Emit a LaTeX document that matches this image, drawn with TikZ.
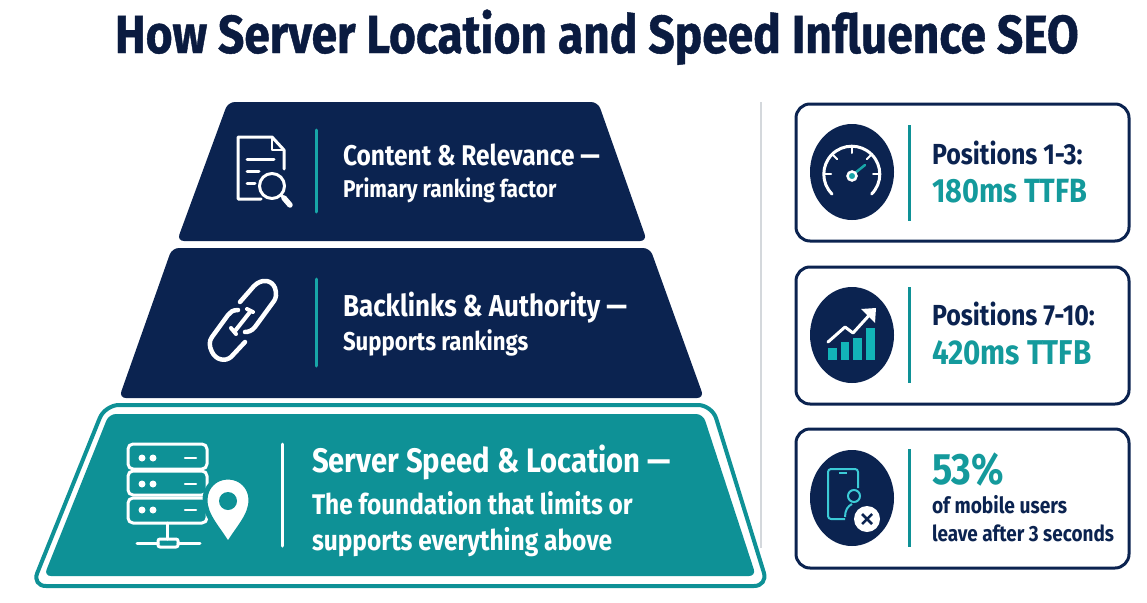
\documentclass[tikz,border=0pt]{standalone}
\usepackage{fontspec}
\setmainfont[FakeStretch=0.86]{Fira Sans}
\newfontfamily\titlefont[FakeStretch=0.86,BoldFeatures={FakeBold=0.8}]{Fira Sans}
\definecolor{navy}{HTML}{0B2350}
\definecolor{titlenavy}{HTML}{0A1B40}
\definecolor{teal}{HTML}{0E9196}
\definecolor{tealline}{HTML}{18A6A8}
\definecolor{tealtext}{HTML}{149A9C}
\definecolor{cyanline}{HTML}{3CCBD6}
\definecolor{barteal}{HTML}{12B4B8}
\definecolor{rulegray}{HTML}{D4D8DC}
\newcommand{\fsize}[1]{\bfseries\fontsize{#1}{#1}\selectfont}
\tikzset{
	x=1pt,y=1pt,
	label/.style={anchor=base west,inner sep=0pt,outer sep=0pt},
	white label/.style={label,text=white,font=\fsize{#1}},
	navy label/.style={label,text=navy,font=\fsize{#1}},
	teal label/.style={label,text=tealtext,font=\fsize{#1}},
	card/.style={draw=navy,line width=3,rounded corners=14,fill=white},
	disc/.style={fill=navy},
	divider/.style={tealline,line width=3,line cap=round},
	icon/.style={white,line width=3,line cap=round,line join=round},
}
\begin{document}
\begin{tikzpicture}
	\useasboundingbox (0,-602) rectangle (1147,0);
	\fill [white] (0,-602) rectangle (1147,0);

	% title
	\node [label,text=titlenavy,font=\titlefont\fsize{53.6}] (title) at (115,-53) {How Server Location and Speed Influence SEO};

	% rule between pyramid and cards
	\draw [rulegray,line width=2] (761,-102)--(761,-548);

	% pyramid
	\fill [navy,rounded corners=7] (228,-102)--(598,-102)--(647,-241)--(177,-241)--cycle;
	\fill [navy,rounded corners=7] (172,-248)--(650,-248)--(704,-398)--(119,-398)--cycle;
	\draw [teal,line width=4,rounded corners=14] (105,-405)--(712,-405)--(768,-586)--(32,-586)--cycle;
	\fill [teal,rounded corners=7] (109,-414)--(703,-414)--(756,-576)--(44,-576)--cycle;

	\draw [divider] (316,-130)--(316,-212);
	\draw [divider] (316,-279)--(316,-366);
	\draw [divider,white] (282,-444)--(282,-546);

	\node [white label=28.5] (content) at (343,-165) {Content \& Relevance —};
	\node [white label=24.3] (primary) at (343,-197) {Primary ranking factor};
	\node [white label=30.2] (backlinks) at (343,-316) {Backlinks \& Authority —};
	\node [white label=25.8] (supports) at (343,-350) {Supports rankings};
	\node [white label=34] (server) at (312,-472) {Server Speed \& Location —};
	\node [white label=28.4] (found1) at (312,-514) {The foundation that limits or};
	\node [white label=28.5] (found2) at (312,-550) {supports everything above};

	% document icon
	\draw [icon] (261,-199)--(238,-199)--(238,-137)--(272,-137)--(284,-150)--(284,-169);
	\draw [icon,line width=2] (272,-137)--(272,-150)--(284,-150);
	\draw [icon] (247,-159)--(274,-159);
	\draw [icon] (247,-171)--(259,-171);
	\draw [icon] (247,-183)--(255,-183);
	\draw [icon] (272,-186) circle (12.5);
	\draw [icon] (281,-195)--(283,-197);
	\draw [icon,line width=5.5] (284,-198)--(290,-205);

	% chain icon
	\draw [icon,line width=4.5] (240,-302)--(254,-286) .. controls (262,-278) and (272,-280) .. (275,-288)
		.. controls (277,-294) and (276,-298) .. (274,-301)--(255,-327) .. controls (252,-331) and (248,-332) .. (245,-332);
	\draw [icon,line width=4.5] (245,-342)--(231,-357) .. controls (225,-362) and (216,-360) .. (212,-352)
		.. controls (209,-346) and (209,-341) .. (212,-337)--(228,-315) .. controls (230,-312) and (233,-310) .. (238,-310);
	\draw [icon,line width=4] (235,-331)--(250,-312);
	\draw [icon,line width=4] (247,-309)--(253,-312);
	\draw [icon,line width=4] (231,-328)--(236,-334);

	% server icon
	\foreach \ytop/\ybot/\ymid in {444/469/458,471/495/484,498/523/510} {
		\draw [icon,rounded corners=5] (128,-\ytop) rectangle (207,-\ybot);
		\fill [white] (142,-\ymid) circle (3.5);
		\fill [white] (153,-\ymid) circle (3.5);
		\draw [icon,line width=2.5] (185,-\ymid)--(196,-\ymid);
	}
	\draw [icon] (167,-523)--(167,-539);
	\draw [icon] (137,-543)--(158,-543);
	\draw [icon] (178,-543)--(200,-543);
	\draw [icon,rounded corners=2] (158,-539) rectangle (178,-547);
	\path [fill=white,draw=teal,line width=5] (228,-545) .. controls (218,-528) and (205,-516) .. (205,-500)
		.. controls (205,-487) and (215,-477) .. (228,-477)
		.. controls (241,-477) and (251,-487) .. (251,-500)
		.. controls (251,-516) and (238,-528) .. (228,-545)--cycle;
	\fill [teal] (228,-501) circle (9);

	% cards
	\draw [card] (796,-104) rectangle (1129,-241);
	\draw [card] (796,-267) rectangle (1129,-404);
	\draw [card] (796,-429) rectangle (1129,-568);

	\fill [disc] (852,-172) ellipse (42 and 48);
	\fill [disc] (852,-335) ellipse (42 and 48);
	\fill [disc] (852,-498) ellipse (42 and 48);

	\draw [divider,line cap=butt,teal] (909,-125)--(909,-221);
	\draw [divider,line cap=butt,teal] (909,-287)--(909,-383);
	\draw [divider,line cap=butt,teal] (909,-449)--(909,-547);

	\node [navy label=29] (pos1) at (932,-164) {Positions 1-3:};
	\node [teal label=33.6] (ms1)  at (932,-202) {180ms TTFB};
	\node [navy label=29] (pos2) at (932,-325) {Positions 7-10:};
	\node [teal label=34.4] (ms2)  at (932,-364) {420ms TTFB};
	\node [teal label=44] (pct) at (932,-484) {53\%};
	\node [navy label=22.3] (mob1) at (932,-513) {of mobile users};
	\node [navy label=22] (mob2) at (932,-541) {leave after 3 seconds};

	% gauge icon
	\draw [icon] (832,-194) arc (225:-45:28);
	\foreach \a in {180,135,90,45,0} {
		\draw [icon,line width=2] (852,-174)++(\a:28)--++(\a:-7);
	}
	\draw [tealline,line width=2.5,line cap=round] (855,-173)--(865,-165);
	\draw [white,line width=2.5,fill=tealline] (852,-176) circle (4.5);

	% growth icon
	\fill [barteal] (828,-348) rectangle (837,-360);
	\fill [barteal] (841,-342) rectangle (849,-360);
	\fill [barteal] (853,-338) rectangle (862,-360);
	\fill [barteal] (866,-328) rectangle (875,-360);
	\draw [icon] (828,-342)--(845,-327)--(853,-333)--(873,-311);
	\fill [white] (876,-308)--(861,-309)--(875,-323)--cycle;

	% phone icon
	\draw [cyanline,line width=2,rounded corners=3] (845,-519)--(828,-519)--(828,-469)--(858,-469)--(858,-488);
	\draw [cyanline,line width=1.5] (839,-473)--(847,-473);
	\draw [cyanline,line width=2] (854,-496) circle (6);
	\draw [cyanline,line width=2] (845,-517) .. controls (845,-510) and (848,-506) .. (852,-504);
	\fill [white] (867,-519) circle (13);
	\draw [navy,line width=2.5] (862,-514)--(872,-524) (862,-524)--(872,-514);
\end{tikzpicture}
\end{document}
